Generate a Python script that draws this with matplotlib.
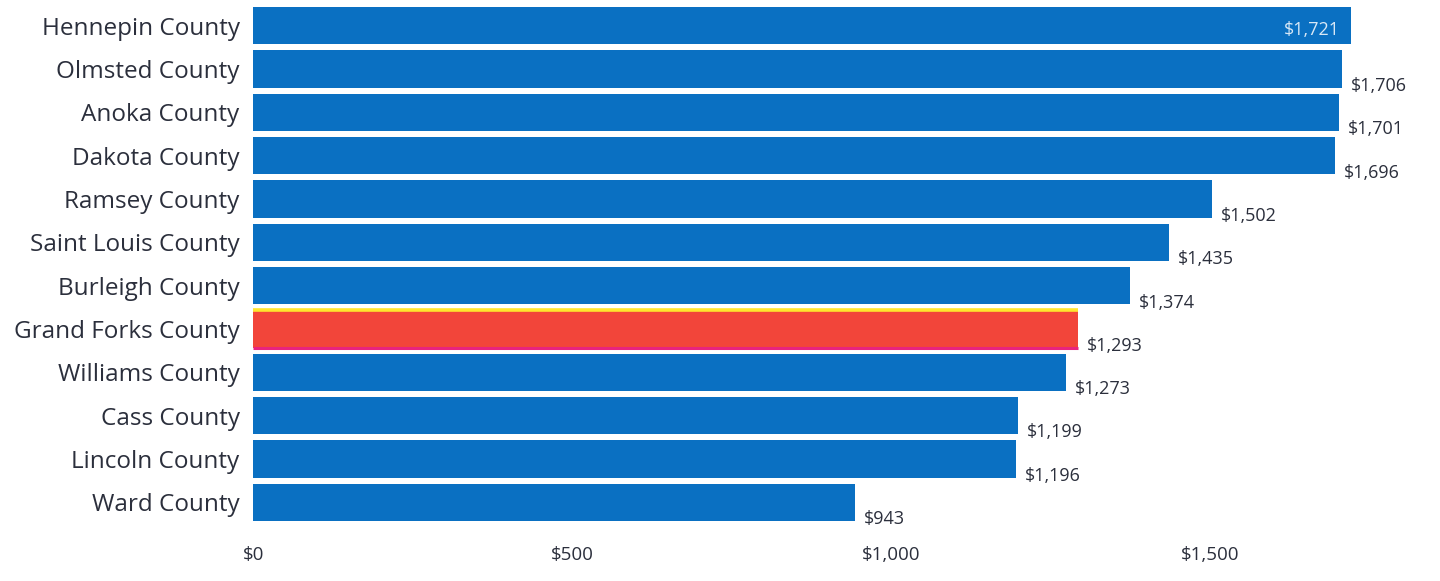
import matplotlib
matplotlib.use("Agg")
import matplotlib.pyplot as plt
from matplotlib.ticker import FuncFormatter

counties = ["Hennepin County", "Olmsted County", "Anoka County", "Dakota County",
            "Ramsey County", "Saint Louis County", "Burleigh County",
            "Grand Forks County", "Williams County", "Cass County",
            "Lincoln County", "Ward County"]
values = [1721, 1706, 1701, 1696, 1502, 1435, 1374, 1293, 1273, 1199, 1196, 943]
highlight = "Grand Forks County"
ticks = [0, 500, 1000, 1500]

BLUE = "#0A70C2"
RED = "#F2453A"
TEXT = "#2B2F3C"

plt.rcParams['font.family'] = ['Open Sans', 'DejaVu Sans']

fig = plt.figure(figsize=(14.4, 5.81), dpi=100)
ax = fig.add_axes([0.176, 0.098, 0.824, 0.895])

ypos = list(range(len(counties)))
colors = [RED if c == highlight else BLUE for c in counties]
bars = ax.barh(ypos, values, height=0.86, color=colors, zorder=2)
ax.set_ylim(len(counties) - 0.5, -0.5)
ax.set_xlim(0, 1860)

for c, b in zip(counties, bars):
    if c == highlight:
        y0 = b.get_y()
        y1 = y0 + b.get_height()
        x1 = b.get_width()
        ax.plot([0, x1], [y1, y1], color="#E8237E", lw=2.2, zorder=3, solid_capstyle="butt")
        ax.plot([0, x1], [y0, y0], color="#FFE62E", lw=2.6, zorder=3, solid_capstyle="butt")

for i, (v, b) in enumerate(zip(values, bars)):
    lab = "${:,}".format(v)
    if i == 0:
        ax.text(v - 18, b.get_y() + b.get_height() * 0.62, lab, ha="right", va="center",
                fontsize=13, color="#D8E8F6", zorder=4)
    else:
        ax.text(v + 14, b.get_y() + b.get_height() * 0.95, lab, ha="left", va="center",
                fontsize=13, color=TEXT, zorder=4)

ax.set_yticks(ypos)
ax.set_yticklabels(counties, fontsize=17.5, color=TEXT)
ax.set_xticks(ticks)
ax.xaxis.set_major_formatter(FuncFormatter(lambda x, p: "${:,.0f}".format(x)))
ax.tick_params(axis="x", labelsize=13.5, colors=TEXT, length=0, pad=16)
ax.tick_params(axis="y", length=0, pad=10)
for s in ax.spines.values():
    s.set_visible(False)

fig.savefig("out.png", dpi=100, facecolor="white")
